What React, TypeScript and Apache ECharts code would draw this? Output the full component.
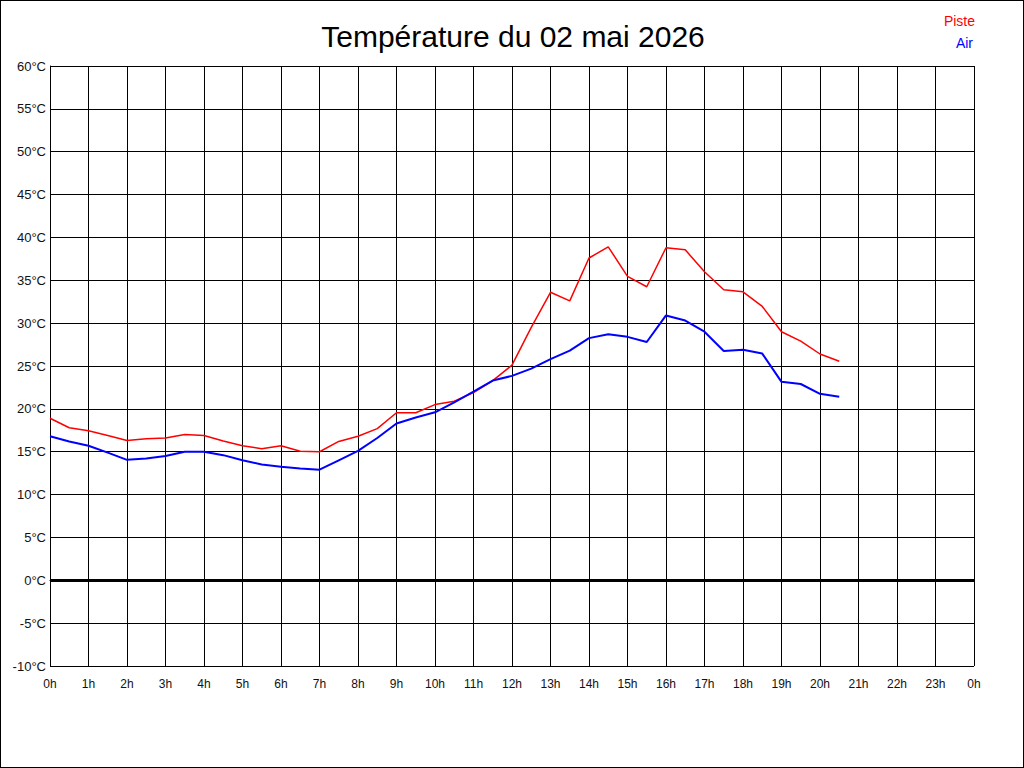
import React, { useEffect, useRef } from "react";
import * as echarts from "echarts";

const hours = [0, 0.5, 1, 1.5, 2, 2.5, 3, 3.5, 4, 4.5, 5, 5.5, 6, 6.5, 7, 7.5, 8, 8.5, 9, 9.5, 10, 10.5, 11, 11.5, 12, 12.5, 13, 13.5, 14, 14.5, 15, 15.5, 16, 16.5, 17, 17.5, 18, 18.5, 19, 19.5, 20, 20.5];
const piste = [18.9, 17.8, 17.45, 16.9, 16.3, 16.5, 16.6, 17.0, 16.9, 16.25, 15.7, 15.35, 15.7, 15.05, 15.0, 16.2, 16.8, 17.7, 19.55, 19.55, 20.5, 20.9, 21.9, 23.3, 25.1, 29.5, 33.6, 32.6, 37.6, 38.9, 35.45, 34.25, 38.8, 38.55, 36.0, 33.9, 33.65, 31.95, 29.0, 27.9, 26.4, 25.55];
const air = [16.8, 16.2, 15.7, 14.9, 14.05, 14.2, 14.5, 15.0, 15.0, 14.6, 14.0, 13.5, 13.25, 13.05, 12.9, 14.0, 15.1, 16.6, 18.3, 19.0, 19.6, 20.75, 22.0, 23.3, 23.85, 24.7, 25.8, 26.8, 28.25, 28.7, 28.4, 27.8, 30.9, 30.3, 29.0, 26.75, 26.9, 26.45, 23.15, 22.9, 21.75, 21.4];
const titleText = "Température du 02 mai 2026";
const seriesNames = ["Piste", "Air"];
const seriesColors = ["#ff0000", "#0000ff"];

export default function App() {
  const ref = useRef<HTMLDivElement>(null);
  useEffect(() => {
    if (!ref.current) return;
    const chart = echarts.init(ref.current, null, { renderer: "svg" });
    const font = "'Liberation Sans', Arial, sans-serif";
    chart.setOption({
      animation: false,
      backgroundColor: "#ffffff",
      textStyle: { fontFamily: font },
      title: {
        text: titleText,
        left: 507,
        top: 15,
        textAlign: "center",
        textStyle: { fontSize: 30, fontWeight: "normal", color: "#000", fontFamily: font },
      },
      graphic: [
        { type: "text", right: 48, top: 13, style: { text: seriesNames[0], fill: seriesColors[0], font: `14px ${font}`, textAlign: "right" } },
        { type: "text", right: 50, top: 35, style: { text: seriesNames[1], fill: seriesColors[1], font: `14px ${font}`, textAlign: "right" } },
      ],
      grid: { left: 49, top: 65, right: 49, bottom: 101, containLabel: false },
      xAxis: {
        type: "value",
        min: 0,
        max: 24,
        interval: 1,
        axisLine: { show: true, lineStyle: { color: "#000", width: 1 } },
        axisTick: { show: false },
        splitLine: { show: true, lineStyle: { color: "#000", width: 1 } },
        axisLabel: {
          color: "#111",
          fontSize: 12,
          fontFamily: font,
          margin: 12,
          formatter: (v: number) => `${v % 24}h`,
        },
      },
      yAxis: {
        type: "value",
        min: -10,
        max: 60,
        interval: 5,
        axisLine: { show: true, lineStyle: { color: "#000", width: 1 } },
        axisTick: { show: false },
        splitLine: { show: true, lineStyle: { color: "#000", width: 1 } },
        axisLabel: {
          color: "#111",
          fontSize: 13,
          fontFamily: font,
          margin: 4,
          formatter: (v: number) => `${v}°C`,
        },
      },
      series: [
        {
          name: seriesNames[0],
          type: "line",
          data: hours.map((h, i) => [h, piste[i]]),
          showSymbol: false,
          lineStyle: { color: seriesColors[0], width: 1.5 },
          itemStyle: { color: seriesColors[0] },
          z: 3,
          markLine: {
            silent: true,
            symbol: "none",
            label: { show: false },
            lineStyle: { color: "#000", width: 3, type: "solid" },
            data: [{ yAxis: 0 }],
          },
        },
        {
          name: seriesNames[1],
          type: "line",
          data: hours.map((h, i) => [h, air[i]]),
          showSymbol: false,
          lineStyle: { color: seriesColors[1], width: 2 },
          itemStyle: { color: seriesColors[1] },
          z: 4,
        },
      ],
    });
    return () => chart.dispose();
  }, []);
  return (
    <div
      style={{
        position: "fixed",
        left: 0,
        top: 0,
        width: 1024,
        height: 768,
        border: "1px solid #000",
        boxSizing: "border-box",
        background: "#fff",
      }}
    >
      <div ref={ref} style={{ width: 1022, height: 766 }} />
    </div>
  );
}
